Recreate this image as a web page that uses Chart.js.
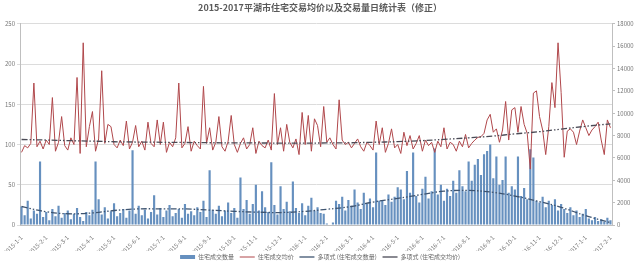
<!DOCTYPE html>
<html>
<head>
<meta charset="utf-8">
<script src="https://cdn.jsdelivr.net/npm/chart.js@4.4.1/dist/chart.umd.min.js"></script>
<style>
  body { margin: 0; background: #fff; }
</style>
</head>
<body>
<canvas id="chart" width="640" height="270"></canvas>
<script>
// daily data sampled every 4 days, starting 2015-1-1
const startDate = [2015, 0, 1];
const stepDays = 4;

// 住宅成交数量 (left axis)
const counts = [
  23, 12, 30, 8, 18, 14, 79, 10,
  16, 6, 20, 11, 24, 9, 15, 18,
  7, 14, 21, 10, 5, 16, 12, 19,
  79, 32, 13, 22, 8, 17, 27, 11,
  15, 20, 9, 18, 93, 14, 24, 12,
  19, 8, 16, 37, 13, 21, 10, 18,
  25, 11, 15, 20, 9, 26, 14, 17,
  12, 22, 16, 30, 10, 68, 19, 14,
  24, 11, 18, 28, 15, 21, 9, 59,
  20, 31, 14, 26, 50, 18, 42, 22,
  16, 78, 25, 13, 48, 20, 29, 17,
  54, 21, 15, 27, 12, 24, 34, 18,
  22, 15, 14, 2, 0, 3, 30, 26,
  35, 18, 31, 24, 44, 28, 20, 40,
  26, 33, 22, 90, 30, 31, 25, 38,
  29, 35, 47, 44, 32, 67, 40, 90,
  36, 28, 45, 60, 33, 42, 95, 38,
  50, 30, 45, 36, 55, 40, 68, 48,
  42, 79, 55, 75, 82, 62, 88, 92,
  100, 58, 85, 50, 56, 85, 40, 48,
  44, 85, 36, 46, 32, 94, 84, 30,
  28, 35, 22, 30, 25, 32, 18, 26,
  20, 15, 22, 12, 18, 10, 14, 20,
  8, 6, 10, 5, 7, 4, 9, 6
];

// 住宅成交均价 (right axis, 元/㎡)
const prices = [
  6500, 7100, 6900, 7300, 12700, 7000, 7500, 6800,
  7600, 7200, 11400, 6600, 7400, 9700, 7100, 6700,
  7800, 7200, 13200, 6400, 16300, 7000, 8800, 10150,
  6600, 7700, 13800, 7300, 9000, 8800, 7200, 6900,
  7600, 7100, 9300, 6800, 7400, 8900, 7000, 7500,
  6700, 9200, 7300, 7000, 9400, 7200, 9200, 6500,
  7400, 7000, 7800, 12700, 6900, 7300, 8800, 6600,
  7500, 7100, 6800, 12400, 7300, 8700, 6700, 7400,
  9700, 7000, 6600, 7500, 9800, 7200, 6500, 7300,
  7800, 6800, 7200, 8700, 6400, 7500, 7100, 6900,
  7600, 6700, 11760, 7200, 8700, 6600, 9000, 7400,
  6900, 7700, 6300, 10070, 7200, 9800, 6600, 9500,
  8900, 7000, 10600, 7400, 7800, 7200, 6800, 11200,
  7600, 7200, 7400, 6900, 7300, 7700, 7000, 6600,
  7400, 7100, 6700, 9300, 7200, 8700, 6500, 7300,
  8600, 6900, 7200, 6400, 8300, 7100, 8000, 6800,
  7300, 8000, 6600, 7600, 7100, 7400, 6500, 7500,
  7000, 8700, 6800, 7400, 7200, 6600, 7500, 7000,
  8100, 6900, 7300, 7600, 7840, 7900, 8200, 9400,
  9900, 8300, 8600, 7400, 8500, 11050, 7600, 10300,
  10500, 8300, 10600, 9000, 8200, 5000, 11800, 12000,
  9700, 8500, 6300, 8800, 12740, 10500, 16300, 11850,
  6060, 8400, 8600, 8300, 7200, 8400, 9400, 8700,
  8000, 8500, 8800, 9200, 7600, 6300, 9400, 8700
];

// polynomial trend lines read at each month start
const trendMonths = [
  '2015-1', '2015-2', '2015-3', '2015-4', '2015-5', '2015-6', '2015-7', '2015-8', '2015-9', '2015-10', '2015-11', '2015-12',
  '2016-1', '2016-2', '2016-3', '2016-4', '2016-5', '2016-6', '2016-7', '2016-8', '2016-9', '2016-10', '2016-11', '2016-12',
  '2017-1', '2017-2'
];
const trendCounts = [
  23, 16.5, 14, 15, 18, 20, 20, 20, 18.5, 17, 16, 15.5,
  17, 19.5, 23, 28.5, 33, 38, 42, 43, 40.5, 36, 29, 22,
  11.5, 3
];
const trendPrices = [
  7650, 7600, 7550, 7500, 7450, 7420, 7400, 7380, 7360, 7350, 7340, 7330,
  7330, 7340, 7360, 7400, 7460, 7550, 7660, 7800, 7960, 8150, 8350, 8580,
  8830, 9050
];

const title = '2015-2017平湖市住宅交易均价以及交易量日统计表（修正）';
const seriesNames = ['住宅成交数量', '住宅成交均价', '多项式 (住宅成交数量)', '多项式 (住宅成交均价)'];

// category labels
const labels = [];
const monthKeys = [];
for (let i = 0; i < counts.length; i++) {
  const d = new Date(startDate[0], startDate[1], startDate[2] + i * stepDays);
  labels.push(d.getFullYear() + '-' + (d.getMonth() + 1) + '-' + d.getDate());
  monthKeys.push(d.getFullYear() + '-' + (d.getMonth() + 1));
}
const isMonthStart = monthKeys.map((k, i) => i === 0 || k !== monthKeys[i - 1]);

function trendData(values) {
  const out = labels.map(() => null);
  trendMonths.forEach((m, j) => {
    const idx = monthKeys.indexOf(m);
    if (idx >= 0) out[idx] = values[j];
  });
  return out;
}

Chart.defaults.font.family = '"Noto Sans CJK SC", "Liberation Sans", sans-serif';
Chart.defaults.color = '#6b6b6b';

const dashDotDot = [6, 2, 1.5, 2, 1.5, 2];

new Chart(document.getElementById('chart'), {
  data: {
    labels: labels,
    datasets: [
      {
        type: 'bar',
        label: seriesNames[0] + '  ',
        data: counts,
        yAxisID: 'y',
        backgroundColor: '#6690bf',
        barPercentage: 1,
        categoryPercentage: 0.7,
        pointStyle: 'rect',
        order: 4
      },
      {
        type: 'line',
        label: seriesNames[1] + '  ',
        data: prices,
        yAxisID: 'y1',
        borderColor: '#b0474b',
        backgroundColor: '#b0474b',
        borderWidth: 1,
        pointRadius: 0,
        tension: 0,
        pointStyle: 'line',
        order: 3
      },
      {
        type: 'line',
        label: seriesNames[2] + '  ',
        data: trendData(trendCounts),
        yAxisID: 'y',
        borderColor: '#3e5470',
        backgroundColor: '#3e5470',
        borderWidth: 1.3,
        borderDash: dashDotDot,
        pointRadius: 0,
        tension: 0.4,
        spanGaps: true,
        pointStyle: 'line',
        order: 1
      },
      {
        type: 'line',
        label: seriesNames[3],
        data: trendData(trendPrices),
        yAxisID: 'y1',
        borderColor: '#4a4a55',
        backgroundColor: '#4a4a55',
        borderWidth: 1.3,
        borderDash: dashDotDot,
        pointRadius: 0,
        tension: 0.4,
        spanGaps: true,
        pointStyle: 'line',
        order: 2
      }
    ]
  },
  options: {
    responsive: false,
    animation: false,
    events: [],
    layout: { padding: 0 },
    plugins: {
      title: {
        display: true,
        text: title,
        color: '#595959',
        font: { size: 9, weight: 'bold' },
        padding: { top: 2, bottom: 11 }
      },
      legend: {
        position: 'bottom',
        labels: {
          usePointStyle: true,
          pointStyleWidth: 15,
          boxHeight: 4,
          padding: 3,
          color: '#666',
          font: { size: 6 },
          sort: (a, b) => a.datasetIndex - b.datasetIndex
        }
      },
      tooltip: { enabled: false }
    },
    scales: {
      x: {
        type: 'category',
        offset: true,
        grid: { display: false },
        border: { color: '#bfbfbf' },
        ticks: {
          autoSkip: false,
          maxRotation: 45,
          minRotation: 45,
          padding: 1,
          color: '#777',
          font: { size: 6 },
          callback: function (v, i) {
            return isMonthStart[i] ? monthKeys[i] + '-1' : '';
          }
        },
        afterFit: s => { s.height = 26; }
      },
      y: {
        position: 'left',
        min: 0,
        max: 250,
        ticks: { stepSize: 50, padding: 2, color: '#777', font: { size: 6 } },
        grid: { color: '#dcdcdc', tickLength: 3 },
        border: { color: '#bfbfbf' },
        afterFit: s => { s.width = 20; }
      },
      y1: {
        position: 'right',
        min: 0,
        max: 18000,
        ticks: {
          stepSize: 2000,
          padding: 2,
          color: '#777',
          font: { size: 6 },
          callback: v => String(v)
        },
        grid: { drawOnChartArea: false, color: '#bfbfbf', tickLength: 3 },
        border: { color: '#bfbfbf' },
        afterFit: s => { s.width = 28; }
      }
    }
  }
});
</script>
</body>
</html>
